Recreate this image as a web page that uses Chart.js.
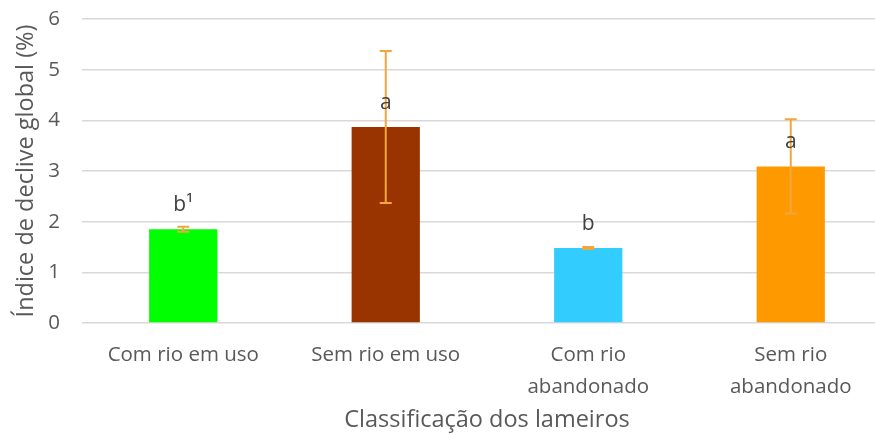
<!DOCTYPE html>
<html>
<head>
<meta charset="utf-8">
<script src="https://cdn.jsdelivr.net/npm/chart.js@4"></script>
<style>
  html, body { margin: 0; padding: 0; background: #fff; overflow: hidden; }
  #wrap { width: 892px; height: 434px; }
</style>
</head>
<body>
<div id="wrap"><canvas id="chart1" width="892" height="434"></canvas></div>
<script>
const categories = ["Com rio em uso", "Sem rio em uso", ["Com rio", "abandonado"], ["Sem rio", "abandonado"]];
const indexValues = [1.85, 3.87, 1.48, 3.09];
const errorValues = [0.05, 1.5, 0.02, 0.93];
const letters = ["b¹", "a", "b", "a"];
const barColors = ["#00FF00", "#993300", "#33CCFF", "#FF9900"];

const textColor = "#595959";
const fontFamily = "'Open Sans', sans-serif";

// barras de erro + letras por cima das barras
const extrasPlugin = {
  id: "extras",
  afterDatasetsDraw(chart) {
    const ctx = chart.ctx;
    const y = chart.scales.y;
    const meta = chart.getDatasetMeta(0);
    ctx.save();
    meta.data.forEach((bar, i) => {
      const top = y.getPixelForValue(indexValues[i] + errorValues[i]);
      const bottom = y.getPixelForValue(indexValues[i] - errorValues[i]);
      ctx.strokeStyle = "#F4A63E";
      ctx.lineWidth = 2;
      ctx.beginPath();
      ctx.moveTo(bar.x, top);
      ctx.lineTo(bar.x, bottom);
      ctx.moveTo(bar.x - 6, top);
      ctx.lineTo(bar.x + 6, top);
      ctx.moveTo(bar.x - 6, bottom);
      ctx.lineTo(bar.x + 6, bottom);
      ctx.stroke();
    });
    ctx.fillStyle = "#404040";
    ctx.font = "21px " + fontFamily;
    ctx.textAlign = "center";
    ctx.textBaseline = "middle";
    meta.data.forEach((bar, i) => {
      ctx.fillText(letters[i], bar.x, bar.y - 24);
    });
    ctx.restore();
  },
};

document.addEventListener("DOMContentLoaded", () => {
  new Chart(document.getElementById("chart1"), {
    type: "bar",
    data: {
      labels: categories,
      datasets: [
        {
          data: indexValues,
          backgroundColor: barColors,
          borderWidth: 0,
          categoryPercentage: 1,
          barPercentage: 0.337,
        },
      ],
    },
    options: {
      responsive: false,
      animation: false,
      layout: { padding: { top: 1, right: 0, left: 12, bottom: 0 } },
      plugins: {
        legend: { display: false },
        tooltip: { enabled: false },
      },
      scales: {
        x: {
          afterFit: (scale) => {
            scale.height = 111;
          },
          grid: { display: false, drawTicks: false },
          border: { display: false },
          ticks: {
            color: textColor,
            font: { family: fontFamily, size: 20.5, lineHeight: 1.55 },
            maxRotation: 0,
            padding: 16,
          },
          title: {
            display: true,
            text: "Classificação dos lameiros",
            color: textColor,
            font: { family: fontFamily, size: 23.5 },
            padding: { top: 0, bottom: 0 },
          },
        },
        y: {
          afterFit: (scale) => {
            scale.width = 70;
            scale.paddingTop = 19;
            scale.paddingBottom = 0;
          },
          min: 0,
          max: 6,
          ticks: {
            stepSize: 1,
            color: textColor,
            font: { family: fontFamily, size: 20.5 },
            padding: 22,
          },
          grid: { color: "#D9D9D9", lineWidth: 1.5, drawTicks: false },
          border: { display: false },
          title: {
            display: true,
            text: "Índice de declive global (%)",
            color: textColor,
            font: { family: fontFamily, size: 23.5 },
            padding: { top: 0, bottom: 6 },
          },
        },
      },
    },
    plugins: [extrasPlugin],
  });
});
</script>
</body>
</html>
